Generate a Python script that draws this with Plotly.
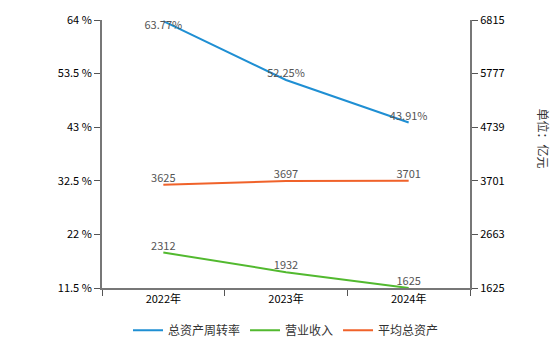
import plotly.graph_objects as go

years = ["2022年", "2023年", "2024年"]
turnover = [63.77, 52.25, 43.91]
revenue = [2312, 1932, 1625]
avg_assets = [3625, 3697, 3701]
left_ticks = [11.5, 22, 32.5, 43, 53.5, 64]
right_ticks = [1625, 2663, 3701, 4739, 5777, 6815]

FONT = "Noto Sans CJK SC, DejaVu Sans, sans-serif"
lab_font = dict(family=FONT, size=11, color="#555555")

fig = go.Figure()
fig.add_trace(go.Scatter(
    x=years, y=turnover, name="总资产周转率", mode="lines+text",
    line=dict(color="#1f8fd3", width=2),
    text=[f"{v:.2f}%" for v in turnover],
    textposition=["bottom center", "top center", "top center"],
    textfont=lab_font, cliponaxis=False))
fig.add_trace(go.Scatter(
    x=years, y=revenue, name="营业收入", mode="lines+text", yaxis="y2",
    line=dict(color="#52b92f", width=2),
    text=[str(v) for v in revenue], textposition="top center",
    textfont=lab_font, cliponaxis=False))
fig.add_trace(go.Scatter(
    x=years, y=avg_assets, name="平均总资产", mode="lines+text", yaxis="y2",
    line=dict(color="#f0622a", width=2),
    text=[str(v) for v in avg_assets], textposition="top center",
    textfont=lab_font, cliponaxis=False))

axis_common = dict(showgrid=False, zeroline=False, showline=True,
                   linecolor="#777777", linewidth=2, ticks="outside",
                   ticklen=6, tickcolor="#555555", tickwidth=1,
                   tickfont=dict(family=FONT, size=11, color="#000000"))

fig.update_layout(
    width=560, height=346,
    margin=dict(l=102, r=90, t=20, b=58, autoexpand=False),
    paper_bgcolor="white", plot_bgcolor="white",
    showlegend=True,
    legend=dict(orientation="h", x=0.5, xanchor="center", y=-0.212, yanchor="bottom",
                font=dict(family=FONT, size=12, color="#333333"),
                itemwidth=30, traceorder="normal"),
    xaxis=dict(type="category", range=[-0.5, 2.5], tickson="boundaries", **axis_common),
    yaxis=dict(range=[11.5, 64], tickvals=left_ticks,
               ticktext=[f"{v:g} %" for v in left_ticks], **axis_common),
    yaxis2=dict(range=[1625, 6815], tickvals=right_ticks, overlaying="y", side="right",
                **axis_common),
    annotations=[dict(text="单位：亿元", textangle=90, xref="paper", yref="paper",
                      x=1.0, xshift=84, y=0.56, showarrow=False,
                      font=dict(family=FONT, size=12, color="#333333"))],
)

fig.write_html("out.html")
